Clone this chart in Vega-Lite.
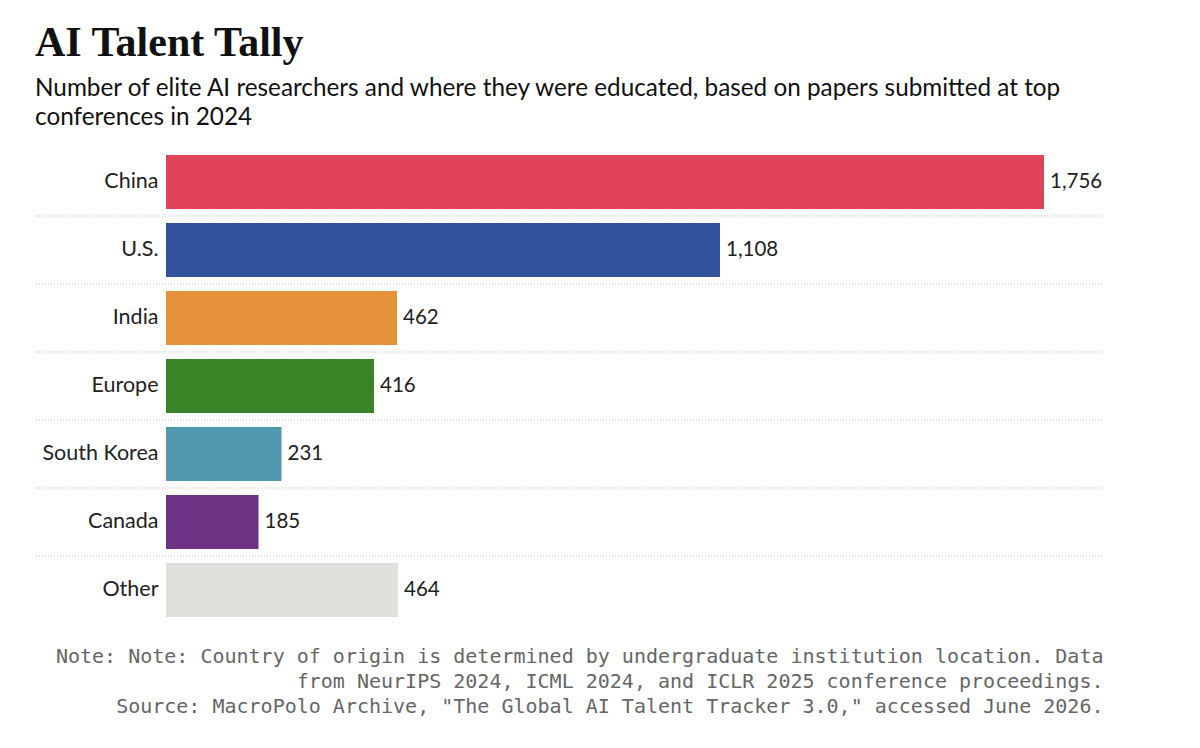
{
  "$schema": "https://vega.github.io/schema/vega-lite/v6.json",
  "autosize": {"type": "none"},
  "width": 937,
  "height": 476,
  "padding": {"left": 166, "top": 148, "right": 97, "bottom": 124},
  "background": "#ffffff",
  "title": {
    "text": "AI Talent Tally",
    "subtitle": ["Number of elite AI researchers and where they were educated, based on papers submitted at top", "conferences in 2024"],
    "anchor": "start",
    "frame": "group",
    "dx": -131,
    "offset": 17,
    "font": "Liberation Serif",
    "fontSize": 42,
    "fontWeight": "bold",
    "color": "#111111",
    "subtitleFont": "Lato",
    "subtitleFontSize": 24.3,
    "subtitleColor": "#111111",
    "subtitleLineHeight": 29,
    "subtitlePadding": 12
  },
  "config": {
    "view": {"stroke": null},
    "font": "Lato"
  },
  "data": {
    "values": [
      {"region": "China", "count": 1756, "color": "#E0435A"},
      {"region": "U.S.", "count": 1108, "color": "#32529C"},
      {"region": "India", "count": 462, "color": "#E6923A"},
      {"region": "Europe", "count": 416, "color": "#3B8327"},
      {"region": "South Korea", "count": 231, "color": "#5198AF"},
      {"region": "Canada", "count": 185, "color": "#6D3385"},
      {"region": "Other", "count": 464, "color": "#DFE0DC"}
    ]
  },
  "encoding": {
    "y": {
      "field": "region",
      "type": "nominal",
      "sort": null,
      "scale": {"paddingInner": 0.2059, "paddingOuter": 0.103},
      "axis": {
        "title": null,
        "ticks": false,
        "domain": false,
        "labelPadding": 8,
        "labelFont": "Lato",
        "labelFontSize": 21.5,
        "labelColor": "#222222"
      }
    }
  },
  "layer": [
    {
      "transform": [{"filter": "datum.region !== 'Other'"}],
      "mark": {"type": "rule", "stroke": "#bbbbbb", "strokeWidth": 1, "strokeDash": [1, 2]},
      "encoding": {
        "y": {"field": "region", "type": "nominal", "sort": null, "bandPosition": 1.1296},
        "x": {"datum": -260},
        "x2": {"datum": 1874}
      }
    },
    {
      "mark": {"type": "bar"},
      "encoding": {
        "x": {
          "field": "count",
          "type": "quantitative",
          "scale": {"domain": [0, 1874], "nice": false, "zero": true},
          "axis": {
            "labels": false,
            "ticks": false,
            "domain": false,
            "grid": false,
            "title": [
              "Note: Note: Country of origin is determined by undergraduate institution location. Data",
              "from NeurIPS 2024, ICML 2024, and ICLR 2025 conference proceedings.",
              "Source: MacroPolo Archive, \"The Global AI Talent Tracker 3.0,\" accessed June 2026."
            ],
            "titleFont": "DejaVu Sans Mono",
            "titleFontSize": 20,
            "titleFontWeight": "normal",
            "titleColor": "#666666",
            "titleAnchor": "end",
            "titleAlign": "right",
            "titleBaseline": "top",
            "titleLineHeight": 25,
            "titlePadding": 22
          }
        },
        "color": {"field": "color", "type": "nominal", "scale": null, "legend": null}
      }
    },
    {
      "mark": {"type": "text", "align": "left", "baseline": "middle", "dx": 6, "font": "Lato", "fontSize": 20.5, "color": "#222222"},
      "encoding": {
        "x": {"field": "count", "type": "quantitative"},
        "text": {"field": "count", "type": "quantitative", "format": ","}
      }
    }
  ]
}
